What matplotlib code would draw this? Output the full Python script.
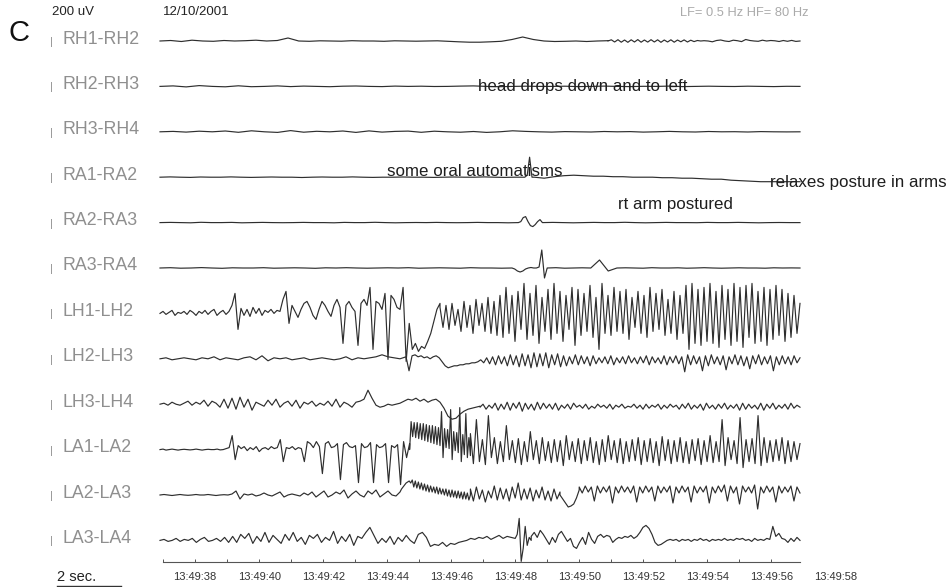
import numpy as np
import matplotlib
matplotlib.use("Agg")
import matplotlib.pyplot as plt

plt.rcParams['font.family'] = ['Liberation Sans', 'DejaVu Sans']

# channel names, top to bottom
channels = ['RH1-RH2', 'RH2-RH3', 'RH3-RH4', 'RA1-RA2', 'RA2-RA3', 'RA3-RA4',
            'LH1-LH2', 'LH2-LH3', 'LH3-LH4', 'LA1-LA2', 'LA2-LA3', 'LA3-LA4']

# time axis (seconds past 13:49)
t_start, t_end = 36.9, 56.9
tick_secs = [38, 40, 42, 44, 46, 48, 50, 52, 54, 56, 58]
tick_labels = ['13:49:%02d' % s for s in tick_secs]
minor_secs = list(range(37, 57))

# traces: (t0, t1, amplitude values evenly spaced in between), amplitude up = positive
rh1 = [(36.9, 50.9, [0, 0.5, -0.5, 0.8, 0, -0.3, 0.5, 0, 0.3, 0.8, 0, 0.5, 3.0, 0, -0.3, 0.2, 0,
                     -0.2, 0.3, 0, 0, -0.3, 0.2, 0, -0.2, 0, 0.2, -0.3, -0.8, -1.2, -1.2, -0.8, -0.3,
                     1.5, 4.0, 1.5, 0, -0.5, -0.3, 0, -0.5, 0, 0.3]),
       (50.9, 53.9, [0, 1.2, -1, 1.3, -1.2, 1, -1.3, 1.2, -1, 1.4, -1.2, 1, -1.1, 1.3, -1, 1.2,
                     -1.3, 1, -1, 1.2, -1.2, 1, -0.8, 1.1, -1, 0.8, -0.6, 0.5, 0, 0.3]),
       (53.9, 56.9, [0.3, 0, -0.8, 0.5, 1, 0, -0.5, 0.8, 0.3, -0.6, 1.5, 0.5, 0, -0.3, 0.8, 0,
                     0.5, 0.2, -0.5, 0.5, -0.3, 0.6, -0.4, 0])]

rh2 = [(36.9, 56.9, [0, 0.5, -0.5, 0.8, 0, -0.4, 0.6, -0.3, 0, 0.5, -0.2, 0.3, 0, -0.3, 0.2, 0.4,
                     0, -0.2, 0.3, 0, 0.2, -0.1, 0, 0.3, 0.5, 0, -0.3, 0, 0.2, 0, 0, 0.2, -0.2, 0,
                     0.3, 0, -0.2, 0.1, 0, 0.3, -0.2, 0, 0.2, 0, -0.1, 0.2, 0, -0.2, 0.1, 0])]

rh3 = [(36.9, 56.9, [0, 0.4, -0.3, 0.6, 0, 0.8, -0.5, 1, 0, -0.6, 1.2, -0.4, 0.5, 0, 0.8, -0.6,
                     0.9, -0.3, 0.4, 0.7, -0.5, 0.6, 0, -0.4, 0.3, -0.6, 0, 1, 0.4, 0, -0.3, 0.2,
                     0, -0.2, 0.3, 0, 0.2, -0.3, 0, 0.4, 0, -0.2, 0.3, 0, 0.1, -0.2, 0.2, 0, -0.1, 0])]

ra1 = [(36.9, 48.3, [0, 0.3, 0, -0.2, 0.2, 0, 0, 0.3, 0, -0.2, 0, 0.2, 0, 0, -0.3, 0, 0.2, 0, 0,
                     0.3, 0, -0.2, 0, 0, 0.2, 0, 0, -0.2, 0, 0.2, 0, 0, 0.3, 0, -0.2, 0, 0]),
       (48.3, 48.6, [0, 2, 20, 0, 0]),
       (48.6, 56.9, [0, -1, 0.5, 1.5, 2, 1.5, 1, 1, 0.5, 0.5, 0, 0, 0, -0.5, -0.5, -1, -1, -1.5,
                     -2, -2, -3, -3.5, -4, -4.5, -4.5, -4.5, -4.5, -4.5])]

ra2 = [(36.9, 48.1, [0, 0.2, 0, -0.2, 0.3, 0, 0, 0.2, -0.2, 0, 0.2, 0, -0.1, 0, 0.2, 0, 0, -0.2,
                     0.2, 0, 0, 0.3, 0, -0.2, 0, 0.1, 0, 0.2, 0, -0.1, 0, 0.2, 0, 0, -0.2, 0]),
       (48.1, 48.85, [0, 1, 5, 6, 1, -3, -4, -2, 1, 3, 0]),
       (48.85, 56.9, [0, 0.2, 0, -0.2, 0, 0.2, 0, 0, 0.3, 0, -0.2, 0, 0.2, 0, 0, -0.1, 0.2, 0, 0,
                      0.2, 0, -0.2, 0, 0.1, 0, 0])]

ra3 = [(36.9, 47.9, [0, 0.3, -0.2, 0, 0.4, 0, -0.3, 0.2, 0, 0, 0.3, -0.2, 0, 0.2, 0, -0.3, 0.2,
                     0, 0.3, 0, -0.2, 0, 0.2, 0, 0.3, -0.2, 0, 0.2, 0, -0.2, 0.3, 0, 0, -0.2, 0]),
       (47.9, 49.0, [0, -1, -3, -4, -3, -1, 0, 0.5, 0, 0, 1, 18, -10, 0]),
       (49.0, 56.9, [0, 0.3, -0.2, 0, 0.2, 0, 8, -3, 0, 0.2, 0, -0.2, 0.3, 0, 0, 0.2, -0.2, 0,
                     0.3, 0, -0.2, 0, 0.2, 0, 0, -0.2, 0.2, 0, 0.1, 0])]

lh1 = [(36.9, 44.4, [0, 2, -1, 1, 3, -2, 1, 0, 2, -1, 3, 1, -2, 2, 0, 3, -1, 2, 4, -2, 1, 3, -1, 2,
                     8, 20, -16, 5, -2, 4, -3, 6, 0, 5, -2, 3, 1, 4, 0, 3, 2, 14, 22, -10, 8, 2,
                     -4, 4, 10, 12, 6, -2, -6, 4, 12, 8, 2, -3, 8, 14, 6, -30, 8, 12, 6, 2, -32,
                     10, 14, 8, 26, -36, 12, 10, 4, 20, -46, 18, 14, 6, 4]),
       (44.4, 45.65, [4, 26, -48, -10, -36, -30, -38, -33, -35, -28, -20, -8, 4, 10]),
       (45.65, 56.9, [6, -14, 8, -16, 10, -12, 4, -18, 12, -14, 8, -20, 14, -12, 10, -18, 16,
                      -20, 12, -22, 18,
                      -24, 26, -20, 18, -28, 22, -16, 30, -26, 20, -22, 28, -30, 16, -18, 24,
                      -26, 30, -20, 22, -28, 18, -16, 26, -32, 24, -22, 20, -18, 28, -24, 16,
                      -36, 30, -20, 18, -22, 26, -18, 22, -20, 24, -26, 16, -14, 22, -20, 18,
                      -24, 26, -18, 20, -16, 24, -22, 14, -20, 22, -26, 18, -20, 28, -36, 30,
                      -30, 24, -32, 26, -28, 30, -30, 22, -34, 28, -26, 24, -32, 30, -28, 26,
                      -34, 28, -24, 30, -30, 22, -28, 26, -32, 24, -26, 28, -22, 24, -28, 20,
                      -24, 18, -20, 10])]

lh2 = [(36.9, 44.4, [0, 1, -1, 0, 1, 0, -1, 1, 0, 2, -1, 1, 0, -1, 1, 2, -1, 3, -2, 1, 0, 1, -1,
                     0, 1, -1, 0, 1, 0, -1, 0, 2, -1, 1, 0, 1, 2, 4, 2, 1, 0]),
       (44.4, 46.0, [0, 1, 2, -12, 3, 4, 2, 3, 1, 2, 0, 2, 3, 1, -3, -7, -9, -8]),
       (46.0, 56.9, [-8, -7, -7, -6, -6, -5, -5, -4, -4, -3,
                     -1, -4, 1, -5, 2, -6, 3, -5, 2, -7, 4, -6, 3, -8, 5, -7, 4, -9, 6, -8, 5,
                     -7, 6, -9, 4, -6, 5, -8, 3, -7, 2, -5, 4, -6, 3, -5, 2, -7, 3, -5, 1, -4,
                     2, -5, 3, -6, 1, -4, 2, -5, 3, -4, 1, -5, 2, -4, 3, -6, 2, -4, 1, -5, 3,
                     -6, 2, -4, 3, -5, 2, -13, 4, -6, 3, -5, 2, -12, 3, -7, 4, -5, 2, -6, 3,
                     -11, 2, -5, 4, -6, 3, -7, 2, -10, 3, -5, 4, -6, 2, -5, 3, -12, 2, -6, 3,
                     -5, 2, -6, 3, -4, 1])]

lh3 = [(36.9, 44.4, [0, 1, -1, 2, 0, -1, 1, 3, -1, 2, 0, 4, -2, 3, 1, -3, 5, -4, 6, -5, 7, -3, 5,
                     -6, 2, 0, -2, 4, -1, 5, -3, 1, 3, -2, 4, -4, 2, 0, 3, -2, 1, -1, 3, -2, 5,
                     -3, 2, 0, -3, 2, 3, 5, 14, 6, -1, -3, -2, 0, -1, 0, 1]),
       (44.4, 46.9, [1, 3, 5, 4, 6, 3, 5, 2, 4, 5, 2, -4, -12, -15, -14, -10, -7, -5, -4, -3, -2]),
       (46.9, 56.9, [-3, 0, -5, -1, -4, 1, -6, 0, -5, 2, -6, 1, -4, 2, -7, 1, -5, 0, -6, 2, -5, 1,
                     -4, 0, -5, 1, -6, -1, -4, 0, -5, 1, -3, -1, -4, 0, -5, -2, -4, 0, -3, -1,
                     -4, 0, -5, -1, -3, 0, -4, -2, -3, 0, -4, -1, -5, 0, -4, -1, -3, 0, -5, -1,
                     -4, 0, -3, -1, -5, 0, -4, 1, -5, -1, -4, 0, -6, 1, -4, -1, -5, 0, -4, 1,
                     -5, -1, -4, 0, -6, 1, -5, 0, -4, -1, -5, 1, -6, 0, -4, 1, -5, -1, -4, 0,
                     -5, 1, -4, -1, -3])]

la1 = [(36.9, 44.7, [0, 0.5, -0.5, 0, 0.5, 0, -0.5, 0, 0.3, 0, -0.3, 0, 0.5, 0, -0.5, 0, 0.3, 0,
                     0, 0.5, -0.3, 0, 1, 2, 14, -10, 4, 1, 3, -1, 2, 0, 3, -2, 1, 2, 0, 3, 1, 2,
                     10, -12, 2, 1, 3, 0, 2, 1, -12, 8, 6, 2, 8, 3, -24, 6, 8, 2, 3, 6, -30, 5,
                     7, 3, 2, 4, -33, 6, 2, 3, 7, -33, 5, 2, 3, 6, -33, 4, 2, 5, -35, 8, -8, 6]),
       (44.7, 46.6, [0, 28, 13, 27, 12, 27, 11, 26, 10, 26, 9, 25, 8, 24, 7, 24, 6, 23, 5, 22, 4,
                     38, -8, 21, 2, 20, 1, 40, -10, 18, -1, 17, -3, 42, -12, 15, -5, 36, -8, 12,
                     -6]),
       (46.6, 56.9, [16, -14, 30, -12, 10, -15, 34, -8, 12, -14, 8, -12, 24, -10, 9, -13, 11,
                     -15, 8, -12, 18, -10, 9, -14, 12, -11, 8, -13, 10, -12, 9, -16, 14, -10, 8,
                     -12, 11, -14, 9, -11, 12, -13, 8, -15, 10, -12, 14, -10, 9, -13, 11, -14,
                     8, -12, 10, -11, 12, -15, 9, -12, 11, -13, 8, -16, 13, -11, 10, -14, 9,
                     -12, 12, -13, 8, -14, 10, -11, 11, -15, 9, -12, 14, -13, 8, -12, 30, -16,
                     12, -10, 9, -14, 32, -18, 10, -12, 11, -14, 34, -16, 12, -13, 9, -12, 10,
                     -11, 12, -14, 9, -12, 8, -10, 6])]

la2 = [(36.9, 44.4, [0, 0.5, 0, -0.5, 0, 0.5, 0, -0.3, 0, 0.5, 0, 0, 0.5, 0, -0.5, 0, 0.3, 0, 1,
                     4, -4, 1, 0, 1, -1, 0, 2, 0, -1, 1, 3, -2, 0, 1, 0, -1, 2, 0, 3, -2, 1, 4,
                     -2, 0, 3, 1, 5, -3, 1, 4, 0, -2, 4, 1, 5, -2, 1, 4, 0, -1, 3]),
       (44.4, 46.6, [3, 6, 8, 10, 12, 13, 14, 12, 15, 8, 14, 7, 13, 6, 12, 5, 11, 4, 10, 3, 9, 3,
                     8, 2, 8, 1, 7, 1, 6, 0, 6, -1, 5, -2, 5, -2, 4, -3, 4, -3, 3, -4, 3, -4, 2,
                     -5, 0]),
       (46.6, 49.4, [6, -6, 8, -4, 5, -7, 4, -3, 9, -5, 7, -4, 6, -6, 8, -3, 12, -5, 6, -4, 7, -6,
                     5, -3, 8, -5, 4, -6, 6, -4, 3]),
       (49.4, 50.0, [0, -4, -8, -12, -11, -9, -3, 5]),
       (50.0, 56.9, [8, 2, 9, 3, 8, -6, 9, 2, 8, 3, 9, -8, 8, 2, 9, 3, 8, 2, 9, -7, 8, 2, 9, 3, 8,
                     -6, 9, 2, 8, 3, 9, -8, 8, 2, 9, 3, 8, -7, 9, 2, 8, 3, 9, -8, 8, 2, 9, 3, 10,
                     -6, 9, 2, 8, -9, 9, 3, 8, 2, 10, -14, 8, 2, 9, 3, 8, -7, 9, 2, 8, 3, 9, -6,
                     8, 2])]

la3 = [(36.9, 48.0, [0, 1, -1, 0, 2, -1, 1, 0, 2, -2, 1, 3, -1, 0, 2, -1, 3, -2, 4,
                     -2, 6, 2, 7, -3, 4, -1, 8, -2, 5, 1, -3, 6, 0, 8, -1, 3, -4, 5, 2, 6, -2, 3,
                     0, 9, -3, 4, -1, 6, -5, 4, 2, 8, 13, 5, -3, 2, -2, 4, -4, 3, -1, 5, 0, -3,
                     6, 8, 3, -6, -4, -5, -2, -6, -3, -4, -2, -1, 0, 2, 1, 3, 2, 4, 1, 3, 5, 2,
                     4, 3, 2]),
       (48.0, 48.5, [2, 6, 22, -21, -8, 14, -5, 3, 0]),
       (48.5, 56.9, [4, 8, 3, 10, 6, 1, -4, 3, -2, 6, 9, 4, -1, 2, -6, -8, -2, 3, -4, 8, 1, -3,
                     4, 6, 3, 5, 4, -2, 1, 3, 2, 4, 3, 5, 2, 4,
                     8, 13, 15, 12, 6, -2, -5, -4, -2, 0, 1, 0,
                     1, -1, 1, 0, 1, -1, 1, 0, 2, 0, 1, -1, 1, 0, 1, 0, 2, 0, 1, 0, 2, 1, 2, 0,
                     1, -1, 2, 0, 1, 0, 2, 1,
                     14, 4, 7, 2, 1, -2, 2, -1, 3, 0])]

traces = [rh1, rh2, rh3, ra1, ra2, ra3, lh1, lh2, lh3, la1, la2, la3]

annotations = [('head drops down and to left', 478, 87),
               ('some oral automatisms', 387, 172),
               ('relaxes posture in arms', 770, 183),
               ('rt arm postured', 618, 205)]


def build(segments):
    ts, vs = [], []
    for t0, t1, vals in segments:
        ts.append(np.linspace(t0, t1, len(vals)))
        vs.append(np.asarray(vals, dtype=float))
    return np.concatenate(ts), np.concatenate(vs)


W, H = 948, 587
fig = plt.figure(figsize=(W / 100, H / 100), dpi=100)
ax = fig.add_axes([0, 0, 1, 1])
# x in seconds (32 px per second, trace starts at px 160); y in pixels
ax.set_xlim(t_start - 160 / 32, t_start + (W - 160) / 32)
ax.set_ylim(H, 0)
ax.axis('off')

first_row, row_gap = 41, 45.4
trace_color = '#2e2e2e'
label_color = '#8f8f8f'


def ftext(px, py, s, **kw):
    fig.text(px / W, 1 - py / H, s, **kw)


for i, (name, segs) in enumerate(zip(channels, traces)):
    base = first_row + i * row_gap
    t, v = build(segs)
    ax.plot(t, base - v, color=trace_color, lw=0.85, solid_joinstyle='round')
    ftext(63, base - 2, name, fontsize=12.8, color=label_color, va='center', ha='left')
    ftext(51, base + 1, '|', fontsize=8, color=label_color, va='center', ha='center')

for s, px, py in annotations:
    ftext(px, py, s, fontsize=12.2, color='#1e1e1e', va='center', ha='left')

# time axis
axis_y = 562
ax.plot([t_start + 3 / 32, t_end], [axis_y, axis_y], color='#555555', lw=0.8)
ax.vlines(minor_secs, axis_y - 3, axis_y, color='#555555', lw=0.7)
for s, lab in zip(tick_secs, tick_labels):
    ax.text(s, 577, lab, fontsize=8, color='#333333', ha='center', va='center')

# 2 sec scale bar
bar_t0 = t_start - 103 / 32
ax.plot([bar_t0, bar_t0 + 2], [586, 586], color='#333333', lw=1)
ftext(57, 577, '2 sec.', fontsize=10.5, color='#222222', va='center', ha='left')

ftext(8, 33, 'C', fontsize=21, color='#111111', va='center', ha='left')
ftext(52, 12, '200 uV', fontsize=9.5, color='#222222', va='center', ha='left')
ftext(163, 12, '12/10/2001', fontsize=9.5, color='#222222', va='center', ha='left')
ftext(680, 13, 'LF= 0.5 Hz HF= 80 Hz', fontsize=9.3, color='#aaaaaa', va='center', ha='left')

fig.savefig('out.png', dpi=100, facecolor='white')
